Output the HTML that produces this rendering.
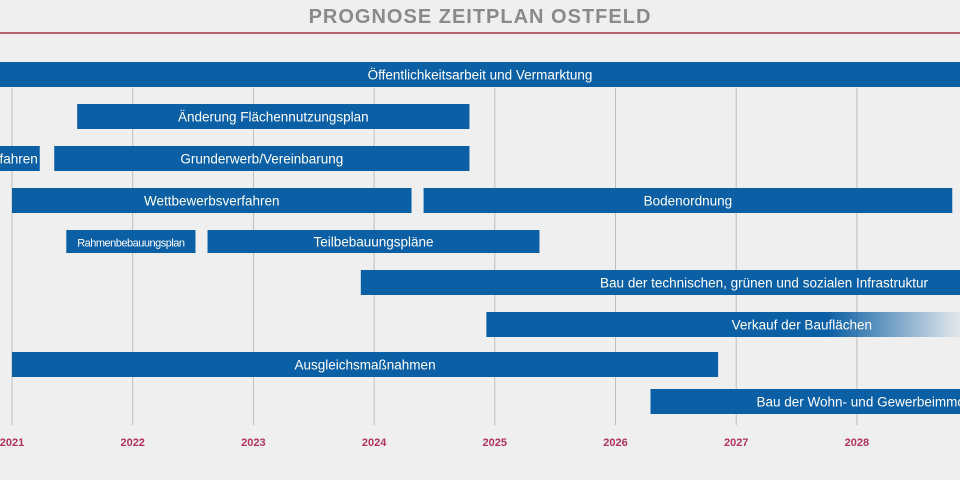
<!DOCTYPE html>
<html><head><meta charset="utf-8"><style>
html,body{margin:0;padding:0;background:#efefef;}
svg{display:block;font-family:"Liberation Sans",sans-serif;}
</style></head><body>
<svg id="chart" width="960" height="480" viewBox="0 0 960 480" xmlns="http://www.w3.org/2000/svg">
<defs>
<linearGradient id="fade" x1="0" x2="1" y1="0" y2="0">
<stop offset="0" stop-color="#0b5fa4"/><stop offset="0.72" stop-color="#0b5fa4"/><stop offset="1" stop-color="#0b5fa4" stop-opacity="0.05"/>
</linearGradient>
</defs>
<rect width="960" height="480" fill="#efefef"/>
<text x="480" y="23" text-anchor="middle" font-size="20" font-weight="bold" fill="#8a8a8a" letter-spacing="1">PROGNOSE ZEITPLAN OSTFELD</text>
<line x1="0" y1="33" x2="960" y2="33" stroke="#b5606f" stroke-width="2"/>
<g id="grid"></g>
<g id="bars"></g>
<g id="ticks"></g>
</svg>
<script>
const years = [2021, 2022, 2023, 2024, 2025, 2026, 2027, 2028];
const labels = ["Öffentlichkeitsarbeit und Vermarktung","Änderung Flächennutzungsplan","fahren","Grunderwerb/Vereinbarung","Wettbewerbsverfahren","Bodenordnung","Rahmenbebauungsplan","Teilbebauungspläne","Bau der technischen, grünen und sozialen Infrastruktur","Verkauf der Bauflächen","Ausgleichsmaßnahmen","Bau der Wohn- und Gewerbeimmobilien"];
const starts = [2020.85, 2021.54, 2020.85, 2021.35, 2021.0, 2024.41, 2021.45, 2022.62, 2023.89, 2024.93, 2021.0, 2026.29];
const ends = [2028.9, 2024.79, 2021.23, 2024.79, 2024.31, 2028.79, 2022.52, 2025.37, 2028.9, 2028.9, 2026.85, 2028.9];
const rows = [0, 1, 2, 2, 3, 3, 4, 4, 5, 6, 7, 8];
const aligns = ["middle","middle","end","middle","middle","middle","middle","middle","end","end","middle","start"];

const NS = "http://www.w3.org/2000/svg";
const x = v => 12 + (v - 2021) * 120.7;
const rowY = r => [62,104,146,188,230,270,312,352,389][r];
const gridG = document.getElementById('grid');
const barsG = document.getElementById('bars');
const tickG = document.getElementById('ticks');

years.forEach(yr => {
  const l = document.createElementNS(NS,'line');
  l.setAttribute('x1', x(yr)); l.setAttribute('x2', x(yr));
  l.setAttribute('y1', 88); l.setAttribute('y2', 425);
  l.setAttribute('stroke', '#bdbdbd'); l.setAttribute('stroke-width', '1');
  
  
  gridG.appendChild(l);
  const t = document.createElementNS(NS,'text');
  t.setAttribute('x', x(yr)); t.setAttribute('y', 446);
  t.setAttribute('text-anchor','middle'); t.setAttribute('font-size','11');
  t.setAttribute('font-weight','bold'); t.setAttribute('fill','#b0325a');
  t.textContent = yr;
  
  
  tickG.appendChild(t);
});

labels.forEach((lab, i) => {
  const x0 = Math.max(0, x(starts[i])), x1 = Math.min(960, x(ends[i]));
  const y = rowY(rows[i]);
  const h = rows[i] === 4 ? 23 : 25;
  const r = document.createElementNS(NS,'rect');
  r.setAttribute('x', x0); r.setAttribute('y', y);
  r.setAttribute('width', x1 - x0); r.setAttribute('height', h);
  r.setAttribute('fill', i === 9 ? 'url(#fade)' : '#0b5fa4');
  
  
  barsG.appendChild(r);
  const t = document.createElementNS(NS,'text');
  let tx = (x0 + x1) / 2;
  if (aligns[i] === 'end') tx = i === 9 ? x1 - 88 : (i === 2 ? x1 - 2 : x1 - 32);
  if (aligns[i] === 'start') tx = x0 + 106;
  t.setAttribute('x', tx); t.setAttribute('y', y + h / 2 + 5);
  t.setAttribute('text-anchor', aligns[i]);
  t.setAttribute('font-size', i === 6 ? '11' : '13.5');
  t.setAttribute('fill', '#ffffff');
  if (i === 6) t.setAttribute('letter-spacing', '-0.5');
  t.textContent = lab;
  
  
  barsG.appendChild(t);
});
</script>
</body></html>
